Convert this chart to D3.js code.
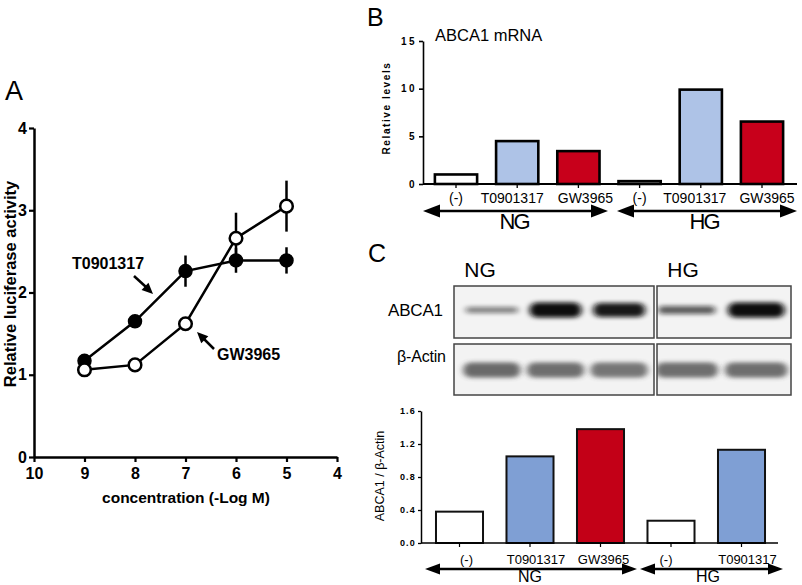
<!DOCTYPE html>
<html><head><meta charset="utf-8">
<script src="https://cdn.jsdelivr.net/npm/d3@7"></script>
<style>body{margin:0;background:#fff}svg{display:block}text{font-family:"Liberation Sans",Arial,sans-serif}</style>
</head><body>
<svg id="c" width="802" height="585"></svg>
<script>
// ---- Panel A data ----
const concTicks = [10, 9, 8, 7, 6, 5, 4];
const luxTicks = [0, 1, 2, 3, 4];
const doseX = [9, 8, 7, 6, 5];
const t090Mean = [1.17, 1.65, 2.26, 2.39, 2.39];
const t090Err = [0.04, 0.04, 0.19, 0.15, 0.16];
const gwMean = [1.06, 1.12, 1.62, 2.66, 3.05];
const gwErr = [0.03, 0.03, 0.04, 0.31, 0.31];
// ---- Panel B data ----
const mrnaCats = ["(-)", "T0901317", "GW3965", "(-)", "T0901317", "GW3965"];
const mrnaGroups = ["NG", "NG", "NG", "HG", "HG", "HG"];
const mrnaVals = [1.0, 4.5, 3.45, 0.3, 9.9, 6.55];
const mrnaTicks = [0, 5, 10, 15];
// ---- Panel C data ----
const blotNG = ["NG-(-)", "NG-T0901317", "NG-GW3965"];
const blotHG = ["HG-(-)", "HG-T0901317"];
const abca1Int = [0.5, 1.0, 0.95, 0.65, 1.0];
const actinInt = [0.75, 0.72, 0.68, 0.72, 0.72];
const ratioCats = ["(-)", "T0901317", "GW3965", "(-)", "T0901317"];
const ratioVals = [0.38, 1.05, 1.38, 0.27, 1.13];
const ratioTicks = [0.0, 0.4, 0.8, 1.2, 1.6];

const svg = d3.select("#c");
const defs = svg.append("defs");
defs.append("filter").attr("id","blur").attr("x","-30%").attr("y","-100%").attr("width","160%").attr("height","300%")
  .append("feGaussianBlur").attr("stdDeviation","3 2");

const BOLD = 700;
// ================= PANEL A =================
const xA = d3.scaleLinear().domain([10, 4]).range([34, 337]);
const yA = d3.scaleLinear().domain([0, 4]).range([457, 128]);
svg.append("text").attr("x", 5).attr("y", 100).attr("font-size", 27).text("A");
const gAy = svg.append("g").attr("transform","translate(34,0)")
  .call(d3.axisLeft(yA).tickValues(luxTicks).tickSize(5).tickSizeOuter(0).tickFormat(d3.format("d")));
const gAx = svg.append("g").attr("transform","translate(0,457)")
  .call(d3.axisBottom(xA).tickValues(concTicks).tickSize(5).tickSizeOuter(0).tickFormat(d3.format("d")));
[gAy, gAx].forEach(g => {
  g.select(".domain").attr("stroke-width", 2.5).attr("stroke","#000");
  g.selectAll(".tick line").attr("stroke-width", 2.2);
  g.selectAll(".tick text").attr("font-size", 16).attr("font-weight", BOLD).attr("font-family","Liberation Sans,Arial,sans-serif");
});
gAy.selectAll(".tick text").attr("x", -7);
gAx.selectAll(".tick text").attr("y", 11);
svg.append("text").attr("transform","translate(16,284) rotate(-90)").attr("text-anchor","middle")
  .attr("font-size", 16.5).attr("font-weight", BOLD).text("Relative luciferase activity");
svg.append("text").attr("x", 186).attr("y", 503).attr("text-anchor","middle")
  .attr("font-size", 15.5).attr("font-weight", BOLD).text("concentration (-Log M)");

function series(means, errs) {
  const pts = doseX.map((x, i) => ({x, y: means[i], e: errs[i]}));
  const g = svg.append("g");
  g.selectAll("line.err").data(pts).join("line").attr("class","err")
    .attr("x1", d => xA(d.x)).attr("x2", d => xA(d.x))
    .attr("y1", d => yA(d.y - d.e)).attr("y2", d => yA(d.y + d.e))
    .attr("stroke","#000").attr("stroke-width", 2.5);
  g.append("path").datum(pts)
    .attr("d", d3.line().x(d => xA(d.x)).y(d => yA(d.y)))
    .attr("fill","none").attr("stroke","#000").attr("stroke-width", 2.5);
  return {g, pts};
}
const sT = series(t090Mean, t090Err);
const sG = series(gwMean, gwErr);
sT.g.selectAll("circle").data(sT.pts).join("circle")
  .attr("cx", d => xA(d.x)).attr("cy", d => yA(d.y)).attr("r", 6.5)
  .attr("fill","#000").attr("stroke","#000").attr("stroke-width", 1.5);
sG.g.selectAll("circle").data(sG.pts).join("circle")
  .attr("cx", d => xA(d.x)).attr("cy", d => yA(d.y)).attr("r", 6.3)
  .attr("fill","#fff").attr("stroke","#000").attr("stroke-width", 2.5);

function arrowTo(x1, y1, x2, y2, w) {
  svg.append("line").attr("x1", x1).attr("y1", y1).attr("x2", x2).attr("y2", y2)
    .attr("stroke","#000").attr("stroke-width", w);
}
function head(x, y, ang, len, half) {
  const bx = x - len * Math.cos(ang), by = y - len * Math.sin(ang);
  const px = -Math.sin(ang) * half, py = Math.cos(ang) * half;
  svg.append("path").attr("d", `M${x},${y}L${bx + px},${by + py}L${bx - px},${by - py}Z`).attr("fill","#000");
}
svg.append("text").attr("x", 72).attr("y", 269).attr("font-size", 16).attr("font-weight", BOLD).text("T0901317");
arrowTo(134, 276, 146, 287, 2.5);
head(153, 294, Math.atan2(294 - 276, 153 - 134), 11, 5);
svg.append("text").attr("x", 217).attr("y", 360).attr("font-size", 16).attr("font-weight", BOLD).text("GW3965");
arrowTo(214, 349, 204, 339, 2.5);
head(197, 332, Math.atan2(332 - 349, 197 - 214), 11, 5);

// ================= PANEL B =================
const xB = d3.scaleBand().domain(d3.range(mrnaVals.length)).range([425.4, 792.6]).paddingInner(0.31).paddingOuter(0.155);
const yB = d3.scaleLinear().domain([0, 15]).range([184, 41]);
svg.append("text").attr("x", 367).attr("y", 26).attr("font-size", 25).text("B");
svg.append("text").attr("x", 435).attr("y", 41).attr("font-size", 16.5).text("ABCA1 mRNA");
const gBy = svg.append("g").attr("transform","translate(423,0)")
  .call(d3.axisLeft(yB).tickValues(mrnaTicks).tickSize(4).tickSizeOuter(0));
gBy.select(".domain").attr("stroke-width", 1.6);
gBy.selectAll(".tick line").attr("stroke-width", 1.6);
gBy.selectAll(".tick text").attr("font-size", 10).attr("font-weight", BOLD).attr("letter-spacing", "2.5px")
  .attr("font-family","Liberation Sans,Arial,sans-serif").attr("x", -6).attr("fill","#000");
svg.append("text").attr("transform","translate(390,108) rotate(-90)").attr("text-anchor","middle")
  .attr("font-size", 10).attr("font-weight", BOLD).attr("letter-spacing","1.6px").attr("fill","#000").text("Relative levels");
const colB = ["#ffffff", "#aec3e7", "#c8001b", "#ffffff", "#aec3e7", "#c8001b"];
svg.append("g").selectAll("rect").data(mrnaVals).join("rect")
  .attr("x", (d, i) => xB(i)).attr("width", xB.bandwidth())
  .attr("y", d => yB(d)).attr("height", d => yB(0) - yB(d))
  .attr("fill", (d, i) => colB[i]).attr("stroke","#000").attr("stroke-width", 2.6);
svg.append("line").attr("x1", 423).attr("x2", 797).attr("y1", 184).attr("y2", 184).attr("stroke","#000").attr("stroke-width", 1.8);
svg.append("g").selectAll("line").data(mrnaVals).join("line")
  .attr("x1", (d, i) => xB(i) + xB.bandwidth() / 2).attr("x2", (d, i) => xB(i) + xB.bandwidth() / 2)
  .attr("y1", 184).attr("y2", 188).attr("stroke","#000").attr("stroke-width", 1.3);
const nudgeB = [0, -5, 7, 0, -6, 5];
svg.append("g").selectAll("text").data(mrnaCats).join("text")
  .attr("x", (d, i) => xB(i) + xB.bandwidth() / 2 + nudgeB[i]).attr("y", 203).attr("text-anchor","middle")
  .attr("font-size", 14).text(d => d);

function dblArrow(x1, x2, y, w, len, half) {
  svg.append("line").attr("x1", x1 + len - 1).attr("x2", x2 - len + 1).attr("y1", y).attr("y2", y)
    .attr("stroke","#000").attr("stroke-width", w);
  head(x1, y, Math.PI, len, half);
  head(x2, y, 0, len, half);
}
dblArrow(423, 608, 211, 2.5, 17, 6.5);
dblArrow(617, 797, 211, 2.5, 17, 6.5);
svg.append("text").attr("x", 515).attr("y", 229).attr("text-anchor","middle").attr("font-size", 22).attr("textLength", 31).text("NG");
svg.append("text").attr("x", 705).attr("y", 229).attr("text-anchor","middle").attr("font-size", 22).attr("textLength", 31).text("HG");

// ================= PANEL C (blot) =================
svg.append("text").attr("x", 368).attr("y", 262).attr("font-size", 25).text("C");
svg.append("text").attr("x", 480).attr("y", 277).attr("text-anchor","middle").attr("font-size", 21).text("NG");
svg.append("text").attr("x", 683).attr("y", 277).attr("text-anchor","middle").attr("font-size", 21).text("HG");
svg.append("text").attr("x", 388).attr("y", 316).attr("font-size", 17).attr("textLength", 55).text("ABCA1");
svg.append("text").attr("x", 397).attr("y", 362).attr("font-size", 16).attr("textLength", 49).text("β-Actin");

const boxes = [
  {x0: 454, x1: 654, lanes: blotNG, offset: 0, sc: d3.scaleBand().domain(blotNG).range([460, 651])},
  {x0: 657, x1: 791, lanes: blotHG, offset: 3, sc: d3.scaleBand().domain(blotHG).range([652, 791])}
];
const rows = [
  {y0: 286, y1: 338, vals: abca1Int, cy: 310, kind: "abca1"},
  {y0: 344, y1: 395, vals: actinInt, cy: 370, kind: "actin"}
];
rows.forEach((row, ri) => {
  boxes.forEach((b, bi) => {
    const cid = `clip${ri}${bi}`;
    defs.append("clipPath").attr("id", cid).append("rect")
      .attr("x", b.x0).attr("y", row.y0).attr("width", b.x1 - b.x0).attr("height", row.y1 - row.y0);
    svg.append("rect").attr("x", b.x0).attr("y", row.y0).attr("width", b.x1 - b.x0).attr("height", row.y1 - row.y0)
      .attr("fill", "#f3f3f3");
    const g = svg.append("g").attr("clip-path", `url(#${cid})`);
    b.lanes.forEach((lane, li) => {
      const v = row.vals[b.offset + li];
      const cx = b.sc(lane) + b.sc.bandwidth() / 2;
      const w = b.sc.bandwidth() * (row.kind === "abca1" ? 0.82 : 0.9);
      const h = row.kind === "abca1" ? 3 + 12 * v * v : 15;
      g.append("rect").attr("x", cx - w / 2).attr("y", row.cy - h / 2).attr("width", w).attr("height", h)
        .attr("rx", h / 2).attr("fill", row.kind === "abca1" ? "#0a0a0a" : "#3a3a3a")
        .attr("opacity", v).attr("filter","url(#blur)");
    });
    svg.append("rect").attr("x", b.x0).attr("y", row.y0).attr("width", b.x1 - b.x0).attr("height", row.y1 - row.y0)
      .attr("fill","none").attr("stroke","#444").attr("stroke-width", 1.5);
  });
});

// ================= PANEL C (bars) =================
const xC = d3.scaleBand().domain(d3.range(ratioVals.length)).range([424.25, 776.75]).paddingInner(0.333).paddingOuter(0.1665);
const yC = d3.scaleLinear().domain([0, 1.6]).range([543, 411]);
const gCy = svg.append("g").attr("transform","translate(421,0)")
  .call(d3.axisLeft(yC).tickValues(ratioTicks).tickSize(3).tickSizeOuter(0).tickFormat(d3.format(".1f")));
gCy.select(".domain").attr("stroke-width", 1.5);
gCy.selectAll(".tick line").attr("stroke-width", 1.3);
gCy.selectAll(".tick text").attr("font-size", 9).attr("font-weight", BOLD).attr("letter-spacing","1.2px")
  .attr("font-family","Liberation Sans,Arial,sans-serif").attr("x", -5).attr("fill","#000");
svg.append("text").attr("transform","translate(384,476) rotate(-90)").attr("text-anchor","middle")
  .attr("font-size", 12.5).text("ABCA1 / β-Actin");
const colC = ["#ffffff", "#7f9fd4", "#c30017", "#ffffff", "#7f9fd4"];
svg.append("g").selectAll("rect").data(ratioVals).join("rect")
  .attr("x", (d, i) => xC(i)).attr("width", xC.bandwidth())
  .attr("y", d => yC(d)).attr("height", d => yC(0) - yC(d))
  .attr("fill", (d, i) => colC[i]).attr("stroke","#111").attr("stroke-width", 2);
svg.append("line").attr("x1", 421).attr("x2", 778).attr("y1", 543).attr("y2", 543).attr("stroke","#000").attr("stroke-width", 1.5);
svg.append("g").selectAll("line").data(ratioVals).join("line")
  .attr("x1", (d, i) => xC(i) + xC.bandwidth() / 2).attr("x2", (d, i) => xC(i) + xC.bandwidth() / 2)
  .attr("y1", 543).attr("y2", 547).attr("stroke","#000").attr("stroke-width", 1.2);
const nudgeC = [7, 6, 3, -5, 6];
svg.append("g").selectAll("text").data(ratioCats).join("text")
  .attr("x", (d, i) => xC(i) + xC.bandwidth() / 2 + nudgeC[i]).attr("y", 564).attr("text-anchor","middle")
  .attr("font-size", 13).text(d => d);
dblArrow(425, 637, 569, 2.5, 15, 5.5);
dblArrow(640, 783, 569, 2.5, 15, 5.5);
svg.append("text").attr("x", 530).attr("y", 582).attr("text-anchor","middle").attr("font-size", 16).text("NG");
svg.append("text").attr("x", 708).attr("y", 582).attr("text-anchor","middle").attr("font-size", 16).text("HG");
</script>
</body></html>
